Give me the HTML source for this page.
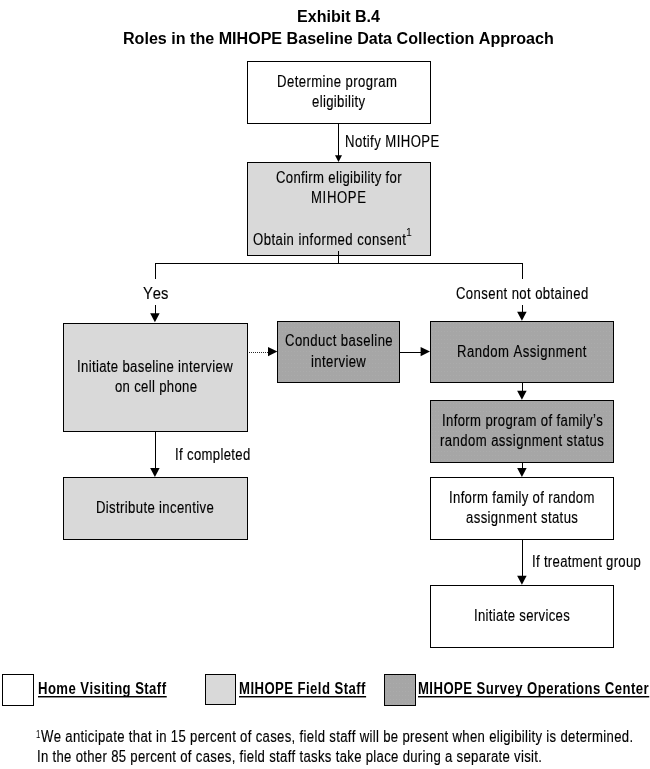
<!DOCTYPE html>
<html><head><meta charset="utf-8"><title>Exhibit B.4</title>
<style>
html,body{margin:0;padding:0;background:#fff}
body{width:650px;height:769px;position:relative;overflow:hidden;font-family:"Liberation Sans",sans-serif;color:#000}
svg{position:absolute;left:0;top:0}
.t{position:absolute;font-size:16px;line-height:20px;white-space:nowrap;transform-origin:0 0;font-kerning:none}
#txt{position:absolute;left:0;top:0;width:650px;height:769px;will-change:transform}
.t{-webkit-text-stroke:0.15px #000}
.b{font-weight:bold;-webkit-text-stroke:0}
.u{background:linear-gradient(#000,#000) 0 17px/100% 1px no-repeat,linear-gradient(#8a8a8a,#8a8a8a) 0 18px/100% 1px no-repeat}
.sup{position:absolute;font-size:10.5px;line-height:12px;white-space:nowrap;transform-origin:0 0}
</style></head><body>
<svg width="650" height="769" viewBox="0 0 650 769">
<defs><pattern id="dg" width="3" height="4" patternUnits="userSpaceOnUse"><rect width="3" height="4" fill="#a6a6a6" stroke="none"/><rect x="0" y="3" width="1" height="1" fill="#ababab" stroke="none"/></pattern></defs>
<g stroke="#000" stroke-width="1" shape-rendering="crispEdges">
<rect x="247.5" y="61.5" width="183" height="62" fill="#fff"/>
<rect x="247.5" y="162.5" width="183" height="93" fill="#d9d9d9"/>
<rect x="63.5" y="323.5" width="184" height="108" fill="#d9d9d9"/>
<rect x="63.5" y="477.5" width="184" height="62" fill="#d9d9d9"/>
<rect x="277.5" y="321.5" width="122" height="61" fill="url(#dg)"/>
<rect x="430.5" y="321.5" width="183" height="61" fill="url(#dg)"/>
<rect x="430.5" y="400.5" width="183" height="62" fill="url(#dg)"/>
<rect x="430.5" y="477.5" width="183" height="62" fill="#fff"/>
<rect x="430.5" y="585.5" width="183" height="62" fill="#fff"/>
<rect x="2.5" y="674.5" width="31" height="31" fill="#fff"/>
<rect x="205.5" y="674.5" width="30" height="30" fill="#d9d9d9"/>
<rect x="384.5" y="674.5" width="31" height="31" fill="url(#dg)"/>
</g>
<g stroke="#000" stroke-width="1" fill="none" shape-rendering="crispEdges">
<line x1="338.5" y1="124" x2="338.5" y2="157"/>
<polygon fill="#000" stroke="none" shape-rendering="geometricPrecision" points="335.0,155.3 342.0,155.3 338.5,162"/>
<line x1="338.5" y1="251" x2="338.5" y2="264"/>
<line x1="155" y1="263.5" x2="523" y2="263.5" />
<line x1="155.5" y1="263" x2="155.5" y2="279"/>
<line x1="155.5" y1="305" x2="155.5" y2="315"/>
<polygon fill="#000" stroke="none" shape-rendering="geometricPrecision" points="150.15,313.2 159.65,313.2 154.9,322.2"/>
<line x1="522.5" y1="263" x2="522.5" y2="279"/>
<line x1="522.5" y1="305" x2="522.5" y2="313"/>
<polygon fill="#000" stroke="none" shape-rendering="geometricPrecision" points="517.15,311.8 526.65,311.8 521.9,320.8"/>
<line x1="249" y1="352.5" x2="269" y2="352.5" stroke-dasharray="1 1" stroke="#2a2a2a"/>
<polygon fill="#000" stroke="none" shape-rendering="geometricPrecision" points="268.0,347.0 268.0,356.20000000000005 277.4,351.6"/>
<line x1="400" y1="352.5" x2="422" y2="352.5" />
<polygon fill="#000" stroke="none" shape-rendering="geometricPrecision" points="420.6,347.0 420.6,356.20000000000005 430,351.6"/>
<line x1="522.5" y1="383" x2="522.5" y2="392"/>
<polygon fill="#000" stroke="none" shape-rendering="geometricPrecision" points="517.15,390.7 526.65,390.7 521.9,399.7"/>
<line x1="522.5" y1="463" x2="522.5" y2="469"/>
<polygon fill="#000" stroke="none" shape-rendering="geometricPrecision" points="517.15,468.0 526.65,468.0 521.9,477"/>
<line x1="522.5" y1="540" x2="522.5" y2="577"/>
<polygon fill="#000" stroke="none" shape-rendering="geometricPrecision" points="517.15,575.8 526.65,575.8 521.9,584.8"/>
<line x1="155.5" y1="432" x2="155.5" y2="469"/>
<polygon fill="#000" stroke="none" shape-rendering="geometricPrecision" points="150.15,468.0 159.65,468.0 154.9,477"/>
</g>
</svg>
<div id="txt">
<div class="t b" style="left:296.90px;top:7px;transform:scaleX(1.0037);letter-spacing:0.000px">Exhibit B.4</div>
<div class="t b" style="left:123.19px;top:29px;transform:scaleX(1.0054);letter-spacing:0.000px">Roles in the MIHOPE Baseline Data Collection Approach</div>
<div class="t" style="left:277.23px;top:72px;transform:scaleX(0.8200);letter-spacing:0.525px">Determine program</div>
<div class="t" style="left:311.74px;top:92px;transform:scaleX(0.8200);letter-spacing:0.415px">eligibility</div>
<div class="t" style="left:344.63px;top:132px;transform:scaleX(0.8200);letter-spacing:0.546px">Notify MIHOPE</div>
<div class="t" style="left:275.74px;top:168px;transform:scaleX(0.8200);letter-spacing:0.412px">Confirm eligibility for</div>
<div class="t" style="left:311.28px;top:188px;transform:scaleX(0.8200);letter-spacing:0.799px">MIHOPE</div>
<div class="t" style="left:253.13px;top:230px;transform:scaleX(0.8200);letter-spacing:0.550px">Obtain informed consent</div>
<div class="t" style="left:142.64px;top:284px;transform:scaleX(0.9208);letter-spacing:0.000px">Yes</div>
<div class="t" style="left:456.44px;top:284px;transform:scaleX(0.8200);letter-spacing:0.481px">Consent not obtained</div>
<div class="t" style="left:76.92px;top:357px;transform:scaleX(0.8200);letter-spacing:0.425px">Initiate baseline interview</div>
<div class="t" style="left:114.53px;top:377px;transform:scaleX(0.8200);letter-spacing:0.399px">on cell phone</div>
<div class="t" style="left:284.99px;top:331px;transform:scaleX(0.8200);letter-spacing:0.509px">Conduct baseline</div>
<div class="t" style="left:311.28px;top:352px;transform:scaleX(0.8200);letter-spacing:0.466px">interview</div>
<div class="t" style="left:456.63px;top:342px;transform:scaleX(0.8200);letter-spacing:0.572px">Random Assignment</div>
<div class="t" style="left:441.62px;top:411px;transform:scaleX(0.8200);letter-spacing:0.446px">Inform program of family&rsquo;s</div>
<div class="t" style="left:439.93px;top:431px;transform:scaleX(0.8200);letter-spacing:0.524px">random assignment status</div>
<div class="t" style="left:174.52px;top:445px;transform:scaleX(0.8200);letter-spacing:0.422px">If completed</div>
<div class="t" style="left:95.62px;top:498px;transform:scaleX(0.8200);letter-spacing:0.445px">Distribute incentive</div>
<div class="t" style="left:449.32px;top:488px;transform:scaleX(0.8200);letter-spacing:0.421px">Inform family of random</div>
<div class="t" style="left:466.24px;top:508px;transform:scaleX(0.8200);letter-spacing:0.469px">assignment status</div>
<div class="t" style="left:532.22px;top:552px;transform:scaleX(0.8200);letter-spacing:0.382px">If treatment group</div>
<div class="t" style="left:474.32px;top:606px;transform:scaleX(0.8200);letter-spacing:0.407px">Initiate services</div>
<div class="t b u" style="left:38.13px;top:679px;transform:scaleX(0.8200);letter-spacing:0.524px">Home Visiting Staff</div>
<div class="t b u" style="left:239.03px;top:679px;transform:scaleX(0.8200);letter-spacing:0.547px">MIHOPE Field Staff</div>
<div class="t b u" style="left:418.43px;top:679px;transform:scaleX(0.8200);letter-spacing:0.542px">MIHOPE Survey Operations Center</div>
<div class="t" style="left:41.30px;top:727px;transform:scaleX(0.8200);letter-spacing:0.404px">We anticipate that in 15 percent of cases, field staff will be present when eligibility is determined.</div>
<div class="t" style="left:36.82px;top:747px;transform:scaleX(0.8200);letter-spacing:0.386px">In the other 85 percent of cases, field staff tasks take place during a separate visit.</div>
<div class="sup" style="left:406.0px;top:226.0px;transform:scaleX(1.0)">1</div>
<div class="sup" style="left:36.2px;top:728.0px;transform:scaleX(0.74)">1</div>
</div>
</body></html>
